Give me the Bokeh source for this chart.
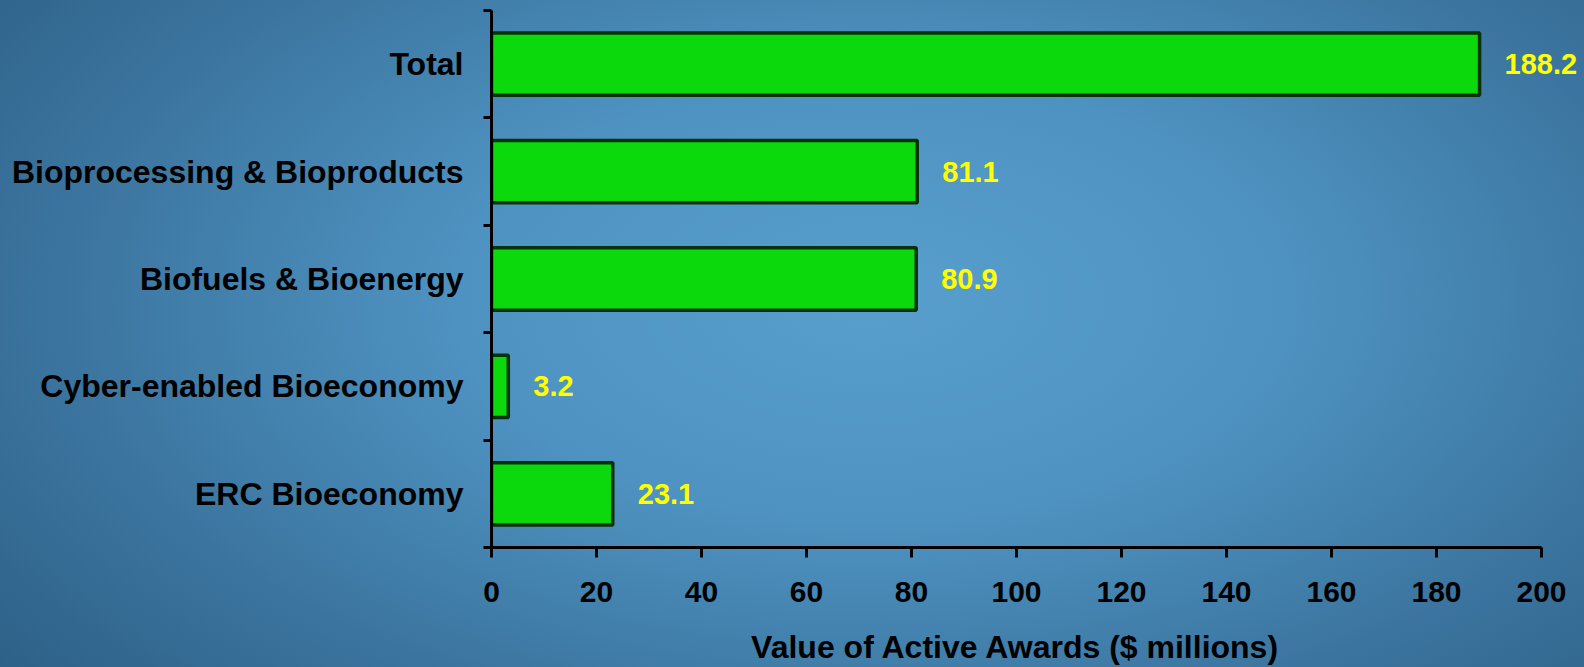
from bokeh.plotting import figure
from bokeh.models import Range1d, FixedTicker, ColumnDataSource, LabelSet
from bokeh.core.properties import value
from bokeh.embed import file_html
from bokeh.resources import INLINE

categories = ["ERC Bioeconomy", "Cyber-enabled Bioeconomy", "Biofuels & Bioenergy",
              "Bioprocessing & Bioproducts", "Total"]
values = [23.1, 3.2, 80.9, 81.1, 188.2]
value_labels = ["23.1", "3.2", "80.9", "81.1", "188.2"]
x_ticks = [0, 20, 40, 60, 80, 100, 120, 140, 160, 180, 200]

FONT = "Liberation Sans"
n = len(categories)
centers = [i + 0.5 for i in range(n)]

src = ColumnDataSource(dict(y=centers, right=values, label=value_labels, cat=categories))

# frame spans 491..1584 px; axis drawn only over 0..200
p = figure(width=1584, height=667, output_backend="svg", toolbar_location=None,
           x_range=Range1d(0, 208.19), y_range=Range1d(0, n),
           min_border_left=491, min_border_right=0, min_border_top=10, min_border_bottom=119)
p.styles = {"background": "radial-gradient(ellipse 75% 95% at 55% 45%, #589fce 0%, #4e92c1 35%, #3a739d 70%, #2a5c82 100%)"}
p.background_fill_alpha = 0
p.border_fill_alpha = 0
p.outline_line_color = None
p.grid.visible = False

p.hbar(y="y", left=0, right="right", height=0.58, source=src,
       fill_color="#0bd90b", line_color="#083308", line_width=3.5)

labels = LabelSet(x="right", y="y", text="label", source=src, x_offset=25,
                  text_align="left", text_baseline="middle",
                  text_color="#ffff00", text_font=value(FONT), text_font_style="bold",
                  text_font_size="29px")
p.add_layout(labels)

# x axis
xa = p.xaxis[0]
xa.bounds = (0, 200)
xa.ticker = FixedTicker(ticks=x_ticks)
xa.axis_line_width = 3
xa.axis_line_color = "black"
xa.major_tick_line_width = 3
xa.major_tick_out = 10
xa.major_tick_in = 0
xa.minor_tick_line_color = None
xa.major_label_text_font = FONT
xa.major_label_text_font_style = "bold"
xa.major_label_text_font_size = "30px"
xa.major_label_text_color = "black"
xa.major_label_standoff = 24
xa.axis_label = "Value of Active Awards ($ millions)" + "\u00a0" * 5
xa.axis_label_text_font = FONT
xa.axis_label_text_font_style = "bold"
xa.axis_label_text_font_size = "32px"
xa.axis_label_text_color = "black"
xa.axis_label_standoff = 24

# y axis
ya = p.yaxis[0]
ya.ticker = FixedTicker(ticks=centers, minor_ticks=list(range(n + 1)))
ya.major_label_overrides = {c: cat for c, cat in zip(centers, categories)}
ya.axis_line_width = 3
ya.axis_line_color = "black"
ya.major_tick_line_color = None
ya.major_tick_out = 0
ya.major_tick_in = 0
ya.minor_tick_line_color = "black"
ya.minor_tick_line_width = 3
ya.minor_tick_out = 8
ya.minor_tick_in = 0
ya.major_label_text_font = FONT
ya.major_label_text_font_style = "bold"
ya.major_label_text_font_size = "32px"
ya.major_label_text_color = "black"
ya.major_label_standoff = 20

open("out.html", "w").write(file_html(p, INLINE))
